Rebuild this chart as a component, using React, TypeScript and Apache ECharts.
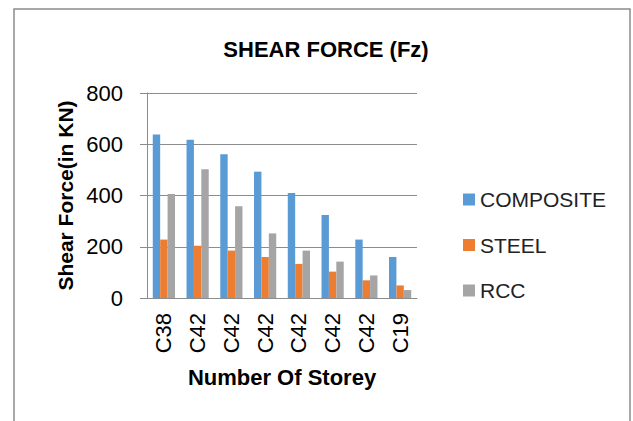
import React, { useEffect, useRef } from "react";
import * as echarts from "echarts";

const categories = ["C38", "C42", "C42", "C42", "C42", "C42", "C42", "C19"];
const composite = [638, 618, 561, 493, 410, 324, 228, 160];
const steel = [228, 204, 185, 160, 133, 103, 69, 49];
const rcc = [406, 502, 358, 252, 185, 142, 88, 31];
const yTicks = [0, 200, 400, 600, 800];

const FONT = "'Liberation Sans', Arial, sans-serif";

export default function App() {
  const ref = useRef<HTMLDivElement>(null);
  useEffect(() => {
    if (!ref.current) return;
    const chart = echarts.init(ref.current, null, { renderer: "svg" });
    const barStyle = { barWidth: 7.4 };
    chart.setOption({
      animation: false,
      backgroundColor: "#ffffff",
      textStyle: { fontFamily: FONT },
      title: {
        text: "SHEAR FORCE (Fz)",
        left: 321,
        top: 33,
        textAlign: "center",
        textStyle: { fontSize: 22, fontWeight: "bold", color: "#000", fontFamily: FONT },
      },
      graphic: [
        {
          type: "rect",
          shape: { x: 14, y: 9, width: 616, height: 430 },
          style: { fill: "none", stroke: "#8c8c8c", lineWidth: 1.5 },
          silent: true,
        },
      ],
      legend: {
        orient: "vertical",
        left: 458,
        top: 184,
        itemWidth: 12,
        itemHeight: 12,
        itemGap: 24.5,
        icon: "rect",
        textStyle: { fontSize: 21, color: "#222", fontFamily: FONT },
        data: ["COMPOSITE", "STEEL", "RCC"],
      },
      grid: { left: 147, right: 216, top: 93, bottom: 123, containLabel: false },
      xAxis: {
        type: "category",
        data: categories,
        name: "Number Of Storey",
        nameLocation: "middle",
        nameGap: 68,
        nameTextStyle: { fontSize: 22, fontWeight: "bold", color: "#000", fontFamily: FONT },
        axisLine: { lineStyle: { color: "#8c8c8c", width: 1 } },
        axisTick: { show: false },
        axisLabel: { rotate: 90, fontSize: 22, color: "#000", margin: 15, interval: 0 },
      },
      yAxis: {
        type: "value",
        min: 0,
        max: 800,
        interval: 200,
        name: "Shear Force(in KN)",
        nameLocation: "middle",
        nameGap: 71,
        nameTextStyle: { fontSize: 21, fontWeight: "bold", color: "#000", fontFamily: FONT },
        axisLine: { show: true, lineStyle: { color: "#8c8c8c", width: 1 } },
        axisTick: { show: true, length: 7, lineStyle: { color: "#8c8c8c" } },
        axisLabel: {
          fontSize: 22,
          color: "#000",
          margin: 24,
          formatter: (v: number) => (yTicks.includes(v) ? String(v) : ""),
        },
        splitLine: { show: true, lineStyle: { color: "#8c8c8c", width: 1 } },
      },
      series: [
        { name: "COMPOSITE", type: "bar", data: composite, itemStyle: { color: "#5B9BD5" }, barGap: "0%", barCategoryGap: "34%", ...barStyle },
        { name: "STEEL", type: "bar", data: steel, itemStyle: { color: "#ED7D31" }, barGap: "0%", ...barStyle },
        { name: "RCC", type: "bar", data: rcc, itemStyle: { color: "#A5A5A5" }, barGap: "0%", ...barStyle },
      ],
    });
    return () => chart.dispose();
  }, []);
  return (
    <div
      ref={ref}
      style={{ position: "absolute", left: 0, top: 0, width: 633, height: 421 }}
    />
  );
}
